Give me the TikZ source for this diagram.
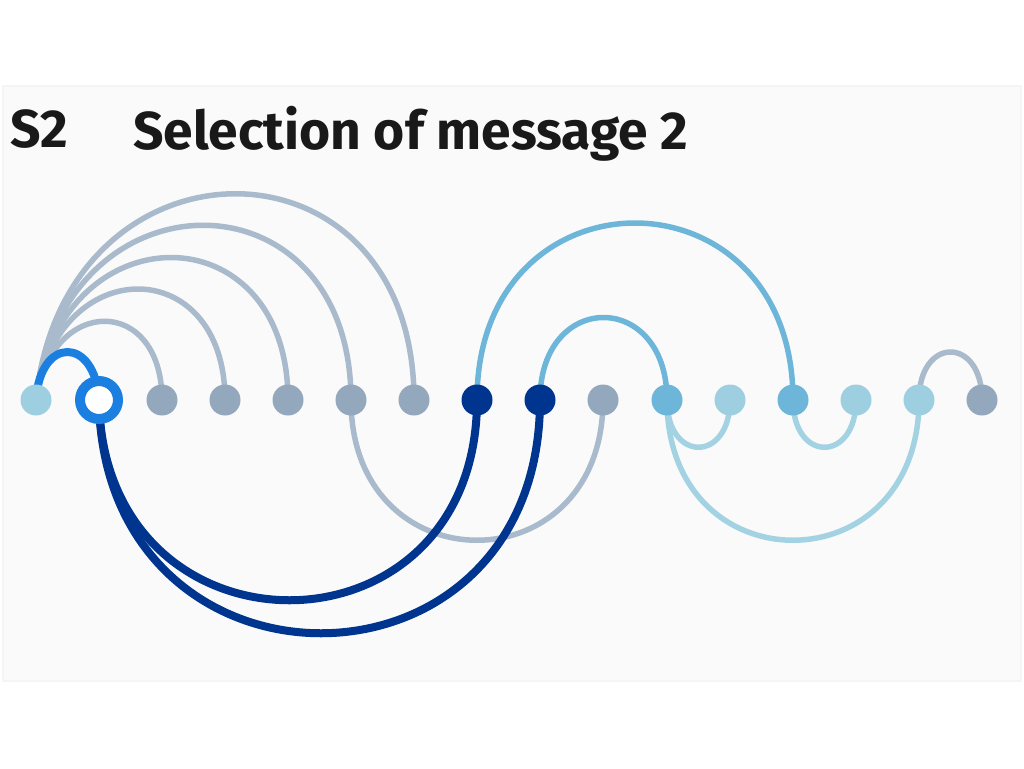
\documentclass[tikz,border=0pt]{standalone}
\usepackage{fontspec}
\setmainfont{Fira Sans}
\definecolor{grayarc}{HTML}{A8BACB}
\definecolor{graynode}{HTML}{93A8BD}
\definecolor{navy}{HTML}{00358F}
\definecolor{bright}{HTML}{1A7FE0}
\definecolor{midblue}{HTML}{6EB6D9}
\definecolor{lightblue}{HTML}{9ECFE1}
\definecolor{lightarc}{HTML}{A3D3E3}
\definecolor{panel}{HTML}{FAFAFA}
\definecolor{panelborder}{HTML}{F5F5F5}
\pgfdeclarelayer{back}
\pgfsetlayers{back,main}
\tikzset{
  dot/.style={circle, inner sep=0pt, minimum size=31*0.75pt},
  graydot/.style={dot, fill=graynode},
  navydot/.style={dot, fill=navy},
  middot/.style={dot, fill=midblue},
  lightdot/.style={dot, fill=lightblue},
  ringdot/.style={circle, inner sep=0pt, minimum size=38*0.75pt, draw=bright, line width=10*0.75pt, fill=white},
  grayline/.style={draw=grayarc, line width=5.5*0.75pt},
  navyline/.style={draw=navy, line width=8*0.75pt},
  brightline/.style={draw=bright, line width=8*0.75pt},
  midline/.style={draw=midblue, line width=5.5*0.75pt},
  lightline/.style={draw=lightarc, line width=5.5*0.75pt},
  titletext/.style={inner sep=0pt, anchor=base west, font=\fontsize{40}{48}\selectfont\bfseries, text=black!90}
}
\begin{document}
\begin{tikzpicture}[x=0.75pt, y=-0.75pt]
\useasboundingbox (0,0) rectangle (1024,768);
% nodes
\node[lightdot] (n0) at (36,400) {};
\node[ringdot]  (n1) at (99,400) {};
\node[graydot]  (n2) at (162,400) {};
\node[graydot]  (n3) at (225,400) {};
\node[graydot]  (n4) at (288,400) {};
\node[graydot]  (n5) at (351,400) {};
\node[graydot]  (n6) at (414,400) {};
\node[navydot]  (n7) at (477,400) {};
\node[navydot]  (n8) at (540,400) {};
\node[graydot]  (n9) at (603,400) {};
\node[middot]   (n10) at (667,400) {};
\node[lightdot] (n11) at (730,400) {};
\node[middot]   (n12) at (793,400) {};
\node[lightdot] (n13) at (856,400) {};
\node[lightdot] (n14) at (919,400) {};
\node[graydot]  (n15) at (982,400) {};
% title
\node[titletext] (s2) at (10,147) {S2};
\node[titletext] (title) at (133,149) {Selection of message 2};
\begin{pgfonlayer}{back}
\fill[panel, draw=panelborder, line width=1.5pt] (3,86) rectangle (1021,681);
% gray arcs from n0
\path[grayline] (n0.center) .. controls +(15,-105) and +(0,-105) .. (n2.center);
\path[grayline] (n0.center) .. controls +(20,-148) and +(0,-148) .. (n3.center);
\path[grayline] (n0.center) .. controls +(24,-190) and +(0,-190) .. (n4.center);
\path[grayline] (n0.center) .. controls +(26,-233) and +(0,-233) .. (n5.center);
\path[grayline] (n0.center) .. controls +(28,-275) and +(0,-275) .. (n6.center);
% gray arc below
\path[grayline] (n5.center) .. controls +(0,187) and +(0,187) .. (n9.center);
% gray arc n14-n15
\path[grayline] (n14.center) .. controls +(0,-64) and +(0,-64) .. (n15.center);
% light arcs below
\path[lightline] (n10.center) .. controls +(0,63) and +(0,63) .. (n11.center);
\path[lightline] (n12.center) .. controls +(0,63) and +(0,63) .. (n13.center);
\path[lightline] (n10.center) .. controls +(0,187) and +(0,187) .. (n14.center);
% mid blue arcs above
\path[midline] (n7.center) .. controls +(0,-236) and +(0,-236) .. (n12.center);
\path[midline] (n8.center) .. controls +(0,-110) and +(0,-110) .. (n10.center);
% bright arc n0-n1
\path[brightline] (n0.center) .. controls +(4,-64) and +(-4,-64) .. (n1.center);
% navy arcs below
\path[navyline] (n1.center) .. controls +(4,267) and +(0,267) .. (n7.center);
\path[navyline] (n1.center) .. controls +(4,311) and +(0,311) .. (n8.center);
\end{pgfonlayer}
\end{tikzpicture}
\end{document}
